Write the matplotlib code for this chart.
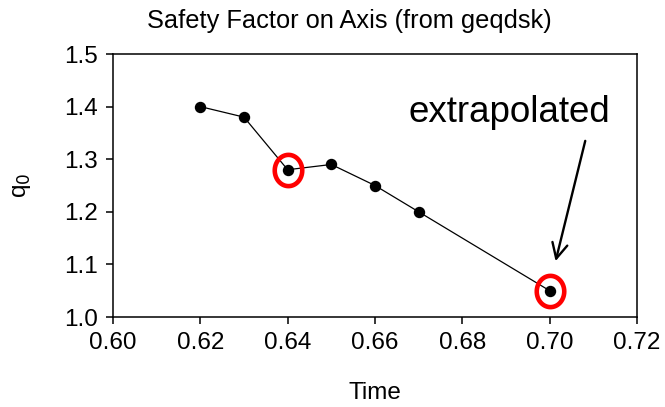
import numpy as np
import matplotlib
matplotlib.use("Agg")
from matplotlib import pyplot as plt
from matplotlib.path import Path

# time (s) and q0 values from geqdsk
time = [0.62, 0.63, 0.64, 0.65, 0.66, 0.67, 0.70]
q0 = [1.40, 1.38, 1.28, 1.29, 1.25, 1.20, 1.05]

# highlighted points
hl_time = [0.64, 0.70]
hl_q0 = [1.28, 1.05]

xticks = [0.60, 0.62, 0.64, 0.66, 0.68, 0.70, 0.72]
yticks = [1.0, 1.1, 1.2, 1.3, 1.4, 1.5]

plt.rcParams['font.family'] = ['Liberation Sans', 'DejaVu Sans']

fig = plt.figure(figsize=(6.65, 4.07), dpi=100)
ax = fig.add_axes([0.1699, 0.2211, 0.788, 0.6462])

ax.plot(time, q0, color='black', lw=0.9, marker='o', markersize=7.2,
        markerfacecolor='black', markeredgecolor='black', zorder=3)

# slightly tall ellipse marker for the red rings
t = np.linspace(0, 2*np.pi, 60)
ring = Path(np.column_stack([0.88*np.cos(t), np.sin(t)]), closed=True)
ax.plot(hl_time, hl_q0, linestyle='none', marker=ring, markersize=22.5,
        markerfacecolor='none', markeredgecolor='#ff0000', mew=3.3, zorder=4)

ax.set_xlim(0.60, 0.72)
ax.set_ylim(1.0, 1.5)
ax.set_xticks(xticks)
ax.set_yticks(yticks)
ax.set_xticklabels(['%.2f' % v for v in xticks])
ax.set_yticklabels(['%.1f' % v for v in yticks])
ax.tick_params(direction='out', length=5, width=1.1, labelsize=17.5, pad=6,
               top=False, right=False)
for s in ax.spines.values():
    s.set_linewidth(1.1)

ax.set_xlabel('Time', fontsize=17.5, labelpad=20)
ax.set_ylabel('q$_0$', fontsize=17.5, labelpad=22)

fig.text(349.5/665, 1 - 28/407, 'Safety Factor on Axis (from geqdsk)',
         ha='center', va='baseline', fontsize=18.3)

ax.text(0.6676, 1.371, 'extrapolated', fontsize=26.5, ha='left', va='baseline')
ax.annotate('', xy=(0.7012, 1.101), xytext=(0.7083, 1.340),
            arrowprops=dict(arrowstyle='->,head_length=1.1,head_width=0.55',
                            color='black', lw=1.7))

fig.savefig('out.png', dpi=100)
